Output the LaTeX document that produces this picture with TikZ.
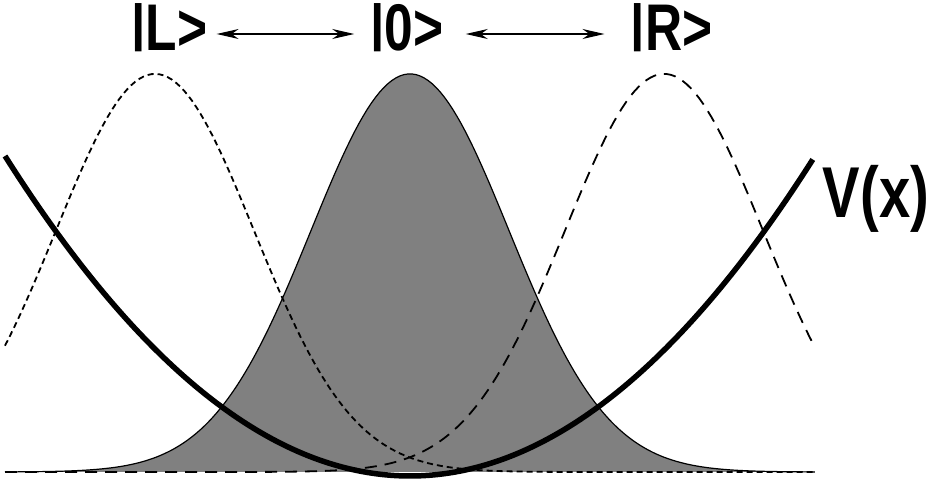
\documentclass[tikz,border=0pt]{standalone}
\usepackage{fontspec}
\setmainfont{Liberation Sans}
\usetikzlibrary{arrows.meta}
\newcommand\ketbar{\raisebox{0.162em}{\scalebox{1}[0.773]{|}}}
\tikzset{
  ket/.style={font=\fontsize{66bp}{70bp}\selectfont\bfseries, inner sep=0pt, anchor=base},
  potlab/.style={font=\fontsize{72bp}{76bp}\selectfont\bfseries, inner sep=0pt, anchor=base},
  tunnel/.style={line width=1.2bp, {Stealth[length=22bp,width=10bp,inset=7bp]}-{Stealth[length=22bp,width=10bp,inset=7bp]}},
  ground/.style={fill=black!50, draw=none},
  groundline/.style={line width=1.2bp},
  leftwave/.style={line width=1.8bp, dash pattern=on 6bp off 4bp},
  rightwave/.style={line width=1.8bp, dash pattern=on 12bp off 8bp},
  potential/.style={line width=5.5bp},
}
\begin{document}
\begin{tikzpicture}[x=1bp, y=-1bp]
\useasboundingbox (0,0) rectangle (928,481);
% filled central Gaussian |0>
\fill[ground] plot[domain=0.05:8.15, samples=200] ({100*\x}, {472-398*exp(-((\x-4.10)^2)/(2*0.99*0.99))}) -- cycle;
\draw[groundline] plot[domain=0.05:8.15, samples=200] ({100*\x}, {472-398*exp(-((\x-4.10)^2)/(2*0.99*0.99))});
% left dashed Gaussian |L>
\draw[leftwave] plot[domain=0.05:8.15, samples=200] ({100*\x}, {472-398*exp(-((\x-1.55)^2)/(2*0.99*0.99))});
% right dashed Gaussian |R>
\draw[rightwave] plot[domain=0.05:8.13, samples=200] ({100*\x}, {472-398*exp(-((\x-6.64)^2)/(2*0.99*0.99))});
% potential
\draw[potential] plot[domain=0.05:8.13, samples=150] ({100*\x}, {476-19.51*(\x-4.10)^2});
% labels
\node[ket] (L) at (169.5,51) {\scalebox{0.78}[1]{\ketbar L>}};
\node[ket] (Z) at (407,51) {\scalebox{0.78}[1]{\ketbar 0>}};
\node[ket] (R) at (671.5,51) {\scalebox{0.78}[1]{\ketbar R>}};
\node[potlab] (V) at (876,218) {\scalebox{0.78}[1]{V(x)}};
\coordinate (arrowy) at (0,34);
\draw[tunnel, shorten <=9bp, shorten >=16bp] (L.east |- arrowy) -- (Z.west |- arrowy);
\draw[tunnel, shorten <=22bp, shorten >=26bp] (Z.east |- arrowy) -- (R.west |- arrowy);
\end{tikzpicture}
\end{document}
